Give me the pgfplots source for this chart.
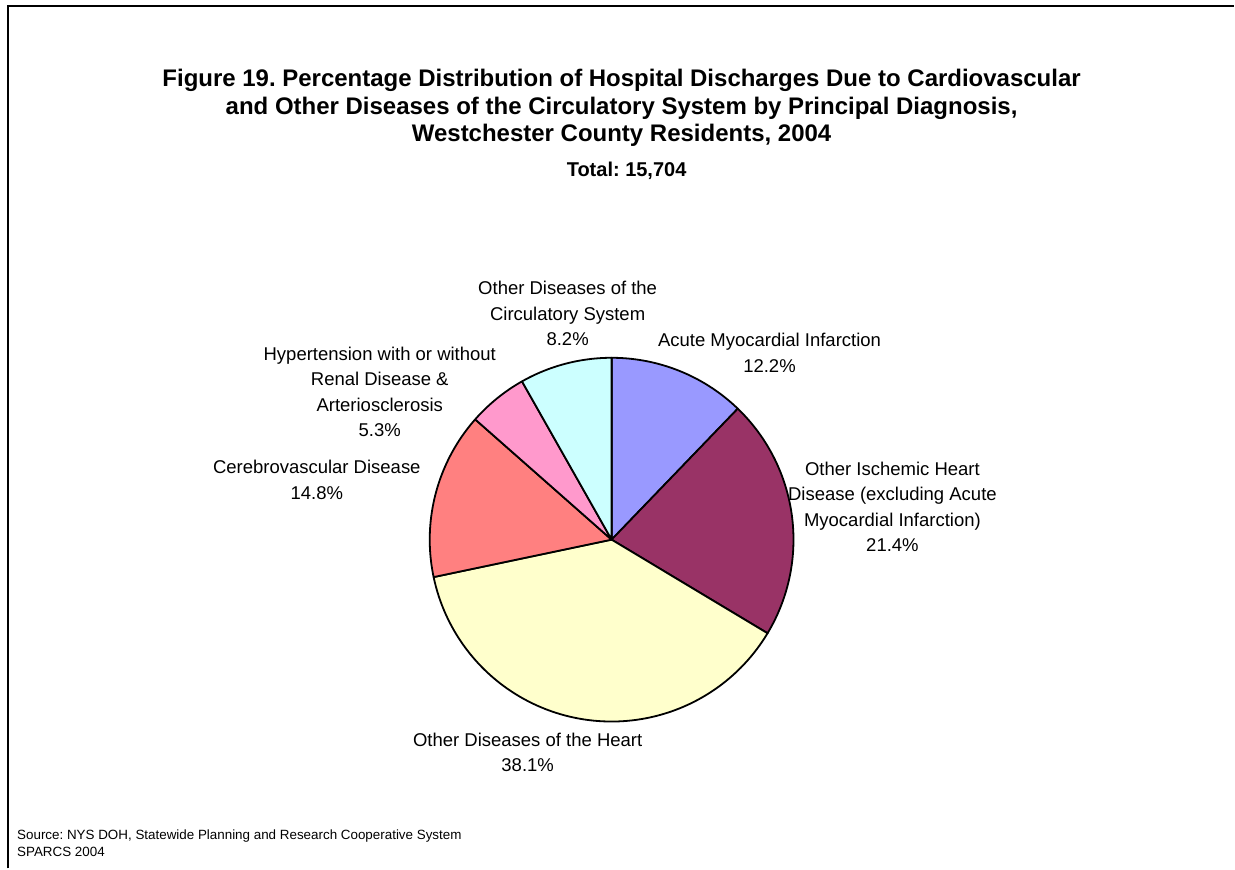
\documentclass[border=0pt]{standalone}
\usepackage{pgfplots}
\pgfplotsset{compat=1.18}
\usepackage{fontspec}
\setmainfont{Liberation Sans}
\frenchspacing

\definecolor{ami}{HTML}{9999FF}
\definecolor{oihd}{HTML}{993366}
\definecolor{ohd}{HTML}{FFFFCC}
\definecolor{cereb}{HTML}{FF8080}
\definecolor{hyper}{HTML}{FF99CC}
\definecolor{ocirc}{HTML}{CCFFFF}

% one wedge: #1 = share before it (%), #2 = its share (%), #3 = colour
% clockwise from 12 o'clock, centre (612,540), radius 182 (pixel units)
\newcommand{\slice}[3]{%
  \addplot[draw=black, line width=1.8pt, fill=#3, line join=round,
    domain={90-3.6*(#1+#2)}:{90-3.6*(#1)}, samples=90]
    ({612+182*cos(x)},{540-182*sin(x)}) -- (axis cs:612,540) -- cycle;}

\tikzset{lbl/.style={inner sep=0pt, align=center}}

\begin{document}
\begin{tikzpicture}
\begin{axis}[
    width=1235pt, height=869pt, scale only axis,
    xmin=0, xmax=1235, ymin=0, ymax=869,
    y dir=reverse,
    hide axis, clip=false
]
  \path (rel axis cs:0,0) rectangle (rel axis cs:1,1);

  % frame
  \addplot[black, line width=1.6pt] coordinates {(8,869) (8,6) (1235,6)};

  % shares in %, clockwise
  \slice{0}{12.2}{ami}              % Acute Myocardial Infarction
  \slice{12.2}{21.4}{oihd}          % Other Ischemic Heart Disease
  \slice{33.6}{38.1}{ohd}           % Other Diseases of the Heart
  \slice{71.7}{14.8}{cereb}         % Cerebrovascular Disease
  \slice{86.5}{5.3}{hyper}          % Hypertension
  \slice{91.8}{8.2}{ocirc}          % Other Diseases of the Circulatory System

  % title
  \node[lbl, font=\fontsize{24}{27.5}\selectfont\bfseries] at (axis cs:622,108) {%
    Figure 19. Percentage Distribution of Hospital Discharges Due to Cardiovascular\\
    and Other Diseases of the Circulatory System by Principal Diagnosis,\\
    Westchester County Residents, 2004};
  \node[lbl, font=\fontsize{20}{22}\selectfont\bfseries] at (axis cs:627,171) {Total: 15,704};

  % slice labels
  \begin{scope}[every node/.append style={lbl, font=\fontsize{18.5}{25.5}\selectfont}]
  \node[lbl] at (axis cs:568,314) {Other Diseases of the\\Circulatory System\\8.2\%};
  \node[lbl] at (axis cs:770,353) {Acute Myocardial Infarction\\12.2\%};
  \node[lbl] at (axis cs:380,392) {Hypertension with or without\\Renal Disease \&\\Arteriosclerosis\\5.3\%};
  \node[lbl] at (axis cs:317,480) {Cerebrovascular Disease\\14.8\%};
  \node[lbl] at (axis cs:893,507) {Other Ischemic Heart\\Disease (excluding Acute\\Myocardial Infarction)\\21.4\%};
  \node[lbl] at (axis cs:528,753) {Other Diseases of the Heart\\38.1\%};
  \end{scope}

  % source
  \node[inner sep=0pt, anchor=west, align=left, font=\fontsize{13.4}{17.5}\selectfont] at (axis cs:17,844)
    {Source: NYS DOH, Statewide Planning and Research Cooperative System\\SPARCS 2004};
\end{axis}
\end{tikzpicture}
\end{document}
